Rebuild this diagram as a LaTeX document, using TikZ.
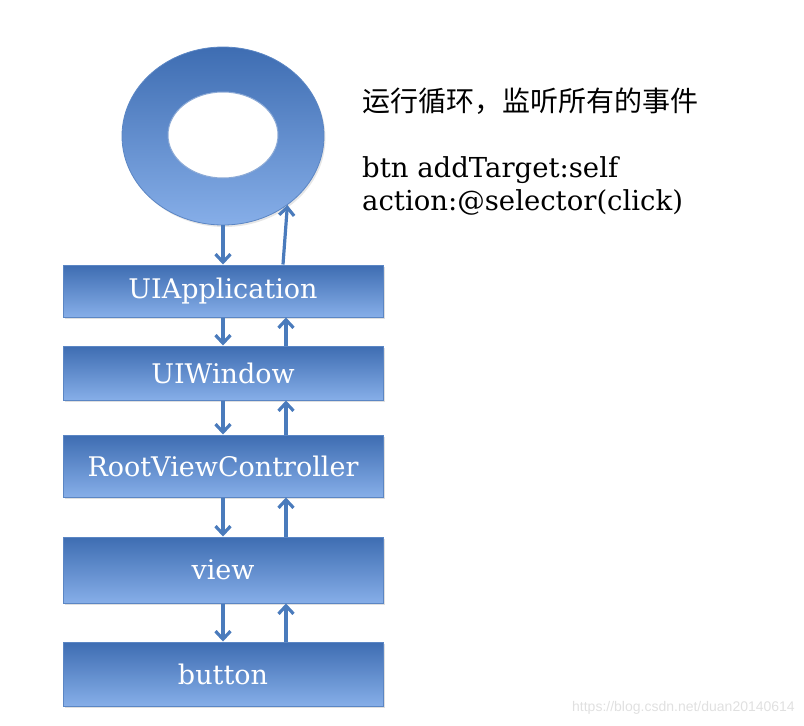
\documentclass[tikz,border=0pt]{standalone}
\usepackage{fontspec}
\setmainfont{DejaVu Serif}
\newfontfamily\cjk{Noto Sans CJK SC}
\newfontfamily\wmfont{Liberation Sans}
\usetikzlibrary{positioning,shapes.geometric,arrows.meta,shadows}

\definecolor{boxtop}{HTML}{3E6DB2}
\definecolor{boxbot}{HTML}{86AEE8}
\definecolor{boxline}{HTML}{5B86C4}
\definecolor{arrowblue}{HTML}{4A7BBC}

\begin{document}
\begin{tikzpicture}[x=1pt,y=-1pt,
  layer/.style={rectangle, draw=boxline, line width=1pt, top color=boxtop, bottom color=boxbot,
    minimum width=320pt, inner sep=0pt, text=white,
    font=\fontsize{27}{30}\selectfont,
    drop shadow={shadow xshift=1.5pt, shadow yshift=-2pt, opacity=0.25}},
  ring/.style={ellipse, draw=boxline, line width=0.8pt, top color=boxtop, bottom color=boxbot,
    minimum width=202pt, minimum height=178pt, inner sep=0pt,
    drop shadow={shadow xshift=1.5pt, shadow yshift=-2pt, opacity=0.2}},
  hole/.style={ellipse, draw=boxline!70, line width=1pt, fill=white,
    minimum width=110pt, minimum height=86pt, inner sep=0pt},
  flow/.style={draw=arrowblue, line width=3.2pt, -{Straight Barb[length=8pt,width=15pt,line width=3.2pt]}},
  note/.style={anchor=west, inner sep=0pt, font=\fontsize{27.5}{31}\selectfont}
]
\useasboundingbox (0,0) rectangle (804,726);

% run loop
\node[ring] (loop) at (223,136) {};
\node[hole] (hole) at (223,135) {};

% responder chain
\node[layer, minimum height=52pt] (app) at (223,291) {UIApplication};
\node[layer, minimum height=54pt] (win) at (223,373) {UIWindow};
\node[layer, minimum height=62pt] (root) at (223,466) {RootViewController};
\node[layer, minimum height=66pt] (view) at (223,570) {view};
\node[layer, minimum height=64pt] (btn) at (223,674) {button};

% down arrows
\draw[flow] (loop.south) -- (app.north);
\draw[flow] (app.south) -- (win.north);
\draw[flow] (win.south) -- (root.north);
\draw[flow] (root.south) -- (view.north);
\draw[flow] (view.south) -- (btn.north);

% up arrows
\draw[flow] ([xshift=63pt]btn.north) -- ([xshift=63pt]view.south);
\draw[flow] ([xshift=63pt]view.north) -- ([xshift=63pt]root.south);
\draw[flow] ([xshift=63pt]root.north) -- ([xshift=63pt]win.south);
\draw[flow] ([xshift=63pt]win.north) -- ([xshift=63pt]app.south);
\draw[flow] ([xshift=60pt]app.north) -- (loop.-47);

% notes
\node[note, font=\cjk\fontsize{28}{32}\selectfont] (runloop) at (362,101) {运行循环，监听所有的事件};
\node[note] (target) at (362,170) {btn addTarget:self};
\node[note, below=6pt of target.south west, anchor=north west] (action) {action:@selector(click)};

% watermark
\node[anchor=east, inner sep=0pt, text=black!12, font=\wmfont\fontsize{14}{16}\selectfont] (mark) at (795,708) {https://blog.csdn.net/duan20140614};
\end{tikzpicture}
\end{document}
